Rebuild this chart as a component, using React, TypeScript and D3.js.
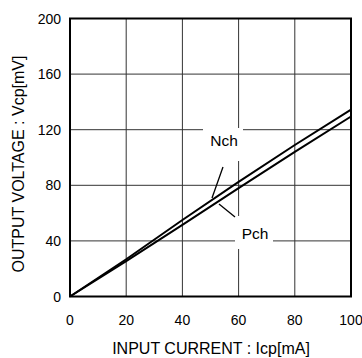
import React from "react";
import * as d3 from "d3";

const xTicks = [0, 20, 40, 60, 80, 100];
const yTicks = [0, 40, 80, 120, 160, 200];
const inputCurrent = [0, 20, 40, 60, 80, 100];
const nchVoltage = [0, 26.8, 55, 82.5, 109, 134.5];
const pchVoltage = [0, 25.5, 51.5, 78, 104, 129.5];

const W = 362, H = 358;
const m = { left: 70, right: 351, top: 18.5, bottom: 296.5 };
const font = "'Liberation Sans', Arial, sans-serif";

export default function App() {
  const x = d3.scaleLinear().domain([0, 100]).range([m.left, m.right]);
  const y = d3.scaleLinear().domain([0, 200]).range([m.bottom, m.top]);
  const line = d3.line<[number, number]>().x(d => x(d[0])).y(d => y(d[1]));
  const nch = inputCurrent.map((c, i) => [c, nchVoltage[i]] as [number, number]);
  const pch = inputCurrent.map((c, i) => [c, pchVoltage[i]] as [number, number]);
  return (
    <svg width={W} height={H} style={{ position: "absolute", left: 0, top: 0, background: "#fff" }} fontFamily={font}>
      {xTicks.slice(1, -1).map(t => (
        <line key={"gx" + t} x1={x(t)} x2={x(t)} y1={m.top} y2={m.bottom} stroke="#333" strokeWidth={1} />
      ))}
      {yTicks.slice(1, -1).map(t => (
        <line key={"gy" + t} x1={m.left} x2={m.right} y1={y(t)} y2={y(t)} stroke="#333" strokeWidth={1} />
      ))}
      {/* label masks */}
      <rect x={203} y={128} width={40} height={33} fill="#fff" />
      <rect x={235} y={216} width={38} height={33} fill="#fff" />
      <path d={line(nch) || ""} fill="none" stroke="#000" strokeWidth={2} />
      <path d={line(pch) || ""} fill="none" stroke="#000" strokeWidth={2} />
      <line x1={223} y1={167} x2={212} y2={198} stroke="#000" strokeWidth={1.3} />
      <line x1={219} y1={204} x2={235} y2={217} stroke="#000" strokeWidth={1.3} />
      <text x={224} y={146} fontSize={15.5} textAnchor="middle" fill="#000">Nch</text>
      <text x={255} y={238.5} fontSize={15.5} textAnchor="middle" fill="#000">Pch</text>
      <rect x={m.left} y={m.top} width={m.right - m.left} height={m.bottom - m.top} fill="none" stroke="#000" strokeWidth={2} />
      {xTicks.map(t => (
        <text key={"xt" + t} x={x(t)} y={324.5} fontSize={14} textAnchor="middle" fill="#000">{t}</text>
      ))}
      {yTicks.map(t => (
        <text key={"yt" + t} x={61} y={y(t) + 5} fontSize={14} textAnchor="end" fill="#000">{t}</text>
      ))}
      <text x={211} y={354} fontSize={16} textAnchor="middle" fill="#000">INPUT CURRENT : Icp[mA]</text>
      <text transform={`translate(24,${164}) rotate(-90)`} fontSize={16} textAnchor="middle" fill="#000">OUTPUT VOLTAGE : Vcp[mV]</text>
    </svg>
  );
}
